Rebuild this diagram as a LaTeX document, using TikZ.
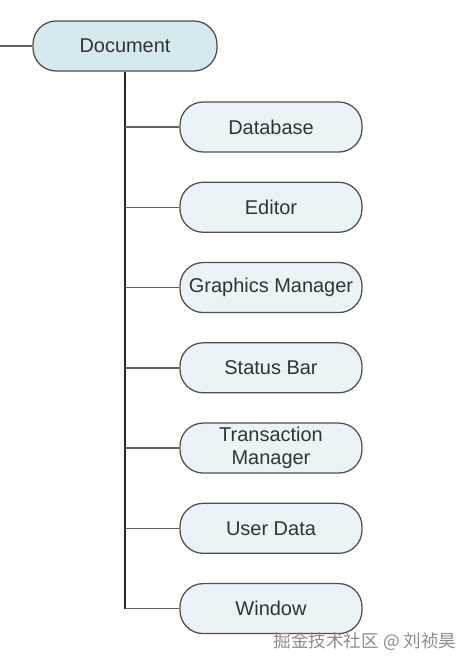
\documentclass[tikz,border=0pt]{standalone}
\usepackage{fontspec}
\setmainfont{Liberation Sans}
\newfontfamily\cjk{Noto Sans CJK SC}
\usepackage{xcolor}
\usetikzlibrary{positioning,calc}
\definecolor{rootfill}{HTML}{D4EAEF}
\definecolor{leaffill}{HTML}{EAF4F6}
\definecolor{edgegray}{HTML}{4F4F4F}
\definecolor{txtgray}{HTML}{333333}

\begin{document}
\begin{tikzpicture}[
  pill/.style={draw=edgegray,line width=0.9pt,rounded corners=0.58cm,minimum width=4.55cm,minimum height=1.25cm,align=center,text=txtgray,font=\fontsize{14.2}{16.5}\selectfont,inner sep=1pt},
  root/.style={pill,fill=rootfill,minimum width=4.6cm},
  leaf/.style={pill,fill=leaffill},
  trunk/.style={line width=1.1pt,black!85},
  branch/.style={line width=1pt,black!62}]
\useasboundingbox (0,0) rectangle (11.825,-16.7);
\node[root] (doc) at (3.125,-1.15) {Document};
\node[leaf] (db) at (6.775,-3.175) {Database};
\node[leaf,below=0.725cm of db] (ed) {Editor};
\node[leaf,below=0.725cm of ed] (gm) {Graphics Manager};
\node[leaf,below=0.725cm of gm] (sb) {Status Bar};
\node[leaf,below=0.725cm of sb] (tm) {Transaction\\Manager};
\node[leaf,below=0.725cm of tm] (ud) {User Data};
\node[leaf,below=0.725cm of ud] (win) {Window};
\coordinate (in) at (0,-1.15);
\coordinate (end) at (doc.south |- win.west);
\draw[branch] (in) -- (doc.west);
\draw[trunk] (doc.south) -- (end);
\foreach \c in {db,ed,gm,sb,tm,ud,win}
  \draw[branch] (doc.south |- \c.west) -- (\c.west);
\node[font=\cjk\fontsize{12.5}{14}\selectfont,text=black!45,anchor=center] (mark) at (9.125,-16.03) {掘金技术社区 @ 刘祯昊};
\end{tikzpicture}
\end{document}
